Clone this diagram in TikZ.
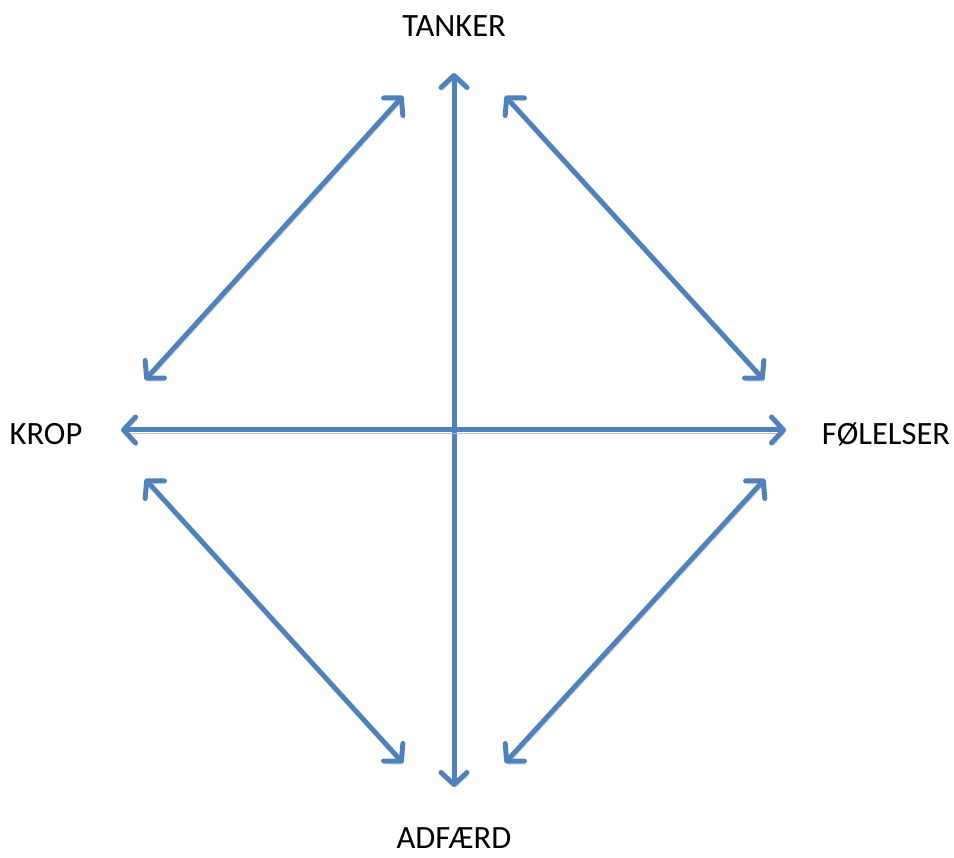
\documentclass[tikz,border=0pt]{standalone}
\usepackage{fontspec}
\setmainfont{Carlito}
\usetikzlibrary{arrows.meta,positioning}
\definecolor{arrowblue}{HTML}{4F81BD}
\definecolor{shadowgray}{HTML}{BEBEBE}

\begin{document}
\begin{tikzpicture}[x=1pt,y=-1pt,
every node/.style={inner sep=0pt, anchor=base, font=\fontsize{32.5}{38}\selectfont},
link/.style={draw=arrowblue, line width=5pt, line cap=round, line join=round,
  {Straight Barb[length=12pt,width=26pt,line cap=round,line join=round]}-{Straight Barb[length=12pt,width=26pt,line cap=round,line join=round]},
  preaction={draw=shadowgray, transform canvas={shift={(1.5pt,-3pt)}}}}]
\useasboundingbox (0,0) rectangle (954,858);
\node (tanker) at (454,37) {TANKER};
\node (krop) at (46,445) {KROP};
\node (folelser) at (886,445) {FØLELSER};
\node (adfaerd) at (454,848) {ADFÆRD};
% arrow ends
\coordinate (t) at (454,73);
\coordinate (b) at (454,787);
\coordinate (l) at (121,430);
\coordinate (r) at (786,430);
\coordinate (tl) at (403,96);
\coordinate (tr) at (505,96);
\coordinate (lt) at (145,380);
\coordinate (rt) at (764,380);
\coordinate (lb) at (145,479);
\coordinate (rb) at (765,479);
\coordinate (bl) at (403,763);
\coordinate (br) at (505,763);
\draw[link] (t)--(b);
\draw[link] (l)--(r);
\draw[link] (tl)--(lt);
\draw[link] (tr)--(rt);
\draw[link] (lb)--(bl);
\draw[link] (rb)--(br);
\end{tikzpicture}
\end{document}
